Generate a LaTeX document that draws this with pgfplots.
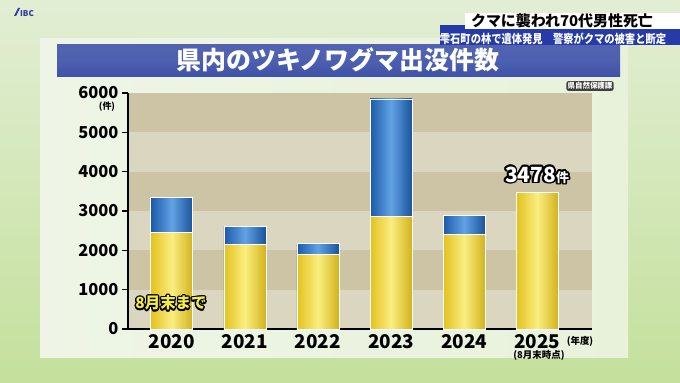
\documentclass[border=0pt]{standalone}
\usepackage{pgfplots}
\pgfplotsset{compat=1.18}
\usepackage{fontspec}
\setmainfont{Noto Sans CJK JP}
\definecolor{bandD}{RGB}{204,196,165}
\definecolor{bandL}{RGB}{219,214,192}
\definecolor{yelD}{RGB}{228,194,30}
\definecolor{yelL}{RGB}{250,238,128}
\definecolor{bluD}{RGB}{28,90,170}
\definecolor{bluL}{RGB}{98,162,228}
\definecolor{titleB}{RGB}{62,82,168}
\definecolor{newsB}{RGB}{38,58,168}
\definecolor{bgA}{RGB}{226,238,212}
\definecolor{bgB}{RGB}{196,224,156}
\definecolor{panel}{RGB}{238,245,230}
\definecolor{capY}{RGB}{246,236,70}
\newcommand\otext[5]{%
  \foreach \a in {0,30,...,330}{\node[text=black,font=#4,inner sep=0,shift={(\a:#3)}] at (#1) {#5};}
  \node[text=#2,font=#4,inner sep=0] at (#1) {#5};
}
\pgfplotsset{
  yel/.style={draw=white, line width=0.8bp, left color=yelD, right color=yelD!92!black, middle color=yelL},
  blu/.style={draw=white, line width=0.8bp, left color=bluD, right color=bluD!92!black, middle color=bluL},
}
\begin{document}
\begin{tikzpicture}[x=1bp,y=1bp]
\useasboundingbox (0,0) rectangle (680,382);
\shade[top color=bgA, bottom color=bgB] (0,0) rectangle (680,382);
\shade[left color=panel, right color=panel!85!bgB] (40,25) rectangle (628,344);
% plot bands
\foreach \k in {0,2,4}{\fill[bandL] (128,53+\k*39.333) rectangle (592,53+\k*39.333+39.333);}
\foreach \k in {1,3,5}{\fill[bandD] (128,53+\k*39.333) rectangle (592,53+\k*39.333+39.333);}
% title bar
\shade[top color=titleB!90!white, bottom color=titleB, middle color=titleB!92!white] (57,306) rectangle (620,338);
\node[text=white,font=\fontsize{25}{28}\selectfont\bfseries] at (338,322) {県内のツキノワグマ出没件数};
% news captions
\fill[newsB] (440,337) rectangle (680,357);
\fill[white] (465,353) rectangle (680,369);
\node[text=black,font=\fontsize{15}{17}\selectfont\bfseries] at (562,361) {クマに襲われ70代男性死亡};
\node[text=white,font=\fontsize{12}{14}\selectfont\bfseries,xscale=0.86] at (553,343) {雫石町の林で遺体発見　警察がクマの被害と断定};
% logo
\node[text=newsB,font=\fontsize{8}{9}\selectfont\bfseries] at (27,368) {IBC};
\fill[newsB] (14,366) -- (18,374) -- (20,374) -- (16,366) -- cycle;
\begin{axis}[
  at={(171.84bp,53bp)}, anchor=origin,
  scale only axis, width=464bp, height=236bp,
  xmin=-0.6, xmax=5.75, ymin=0, ymax=6000,
  ybar, bar width=42bp, bar shift=0pt,
  axis x line*=bottom, axis y line*=left,
  axis line style={line width=1.3bp, black, -},
  xtick={0,...,5}, xticklabels={2020,2021,2022,2023,2024,2025},
  ytick={0,1000,...,6000},
  tick align=outside, major tick length=6bp,
  xtick style={draw=none},
  ytick style={line width=1.3bp, black},
  /pgf/number format/assume math mode=true,
  /pgf/number format/1000 sep={},
  yticklabel style={font=\fontsize{16.5}{18}\selectfont\bfseries},
  xticklabel style={font=\fontsize{19}{20}\selectfont\bfseries, yshift=4bp},
  enlargelimits=false, clip=false,
]
% totals (blue, drawn first)
\addplot[blu] coordinates {(0,3348)};
\addplot[blu] coordinates {(1,2601)};
\addplot[blu] coordinates {(2,2178)};
\addplot[blu] coordinates {(3,5848)};
\addplot[blu] coordinates {(4,2880)};
% through end of August (yellow)
\addplot[yel] coordinates {(0,2458)};
\addplot[yel] coordinates {(1,2161)};
\addplot[yel] coordinates {(2,1899)};
\addplot[yel] coordinates {(3,2855)};
\addplot[yel] coordinates {(4,2408)};
\addplot[yel] coordinates {(5,3478)};
\end{axis}
\node[font=\fontsize{9}{10}\selectfont\bfseries] at (107,275) {(件)};
\node[font=\fontsize{9.5}{10}\selectfont\bfseries] at (580,41) {(年度)};
\node[font=\fontsize{9.5}{10}\selectfont\bfseries] at (539,27) {(8月末時点)};
\otext{171,79}{capY}{1.4bp}{\fontsize{15.5}{17}\selectfont\bfseries}{8月末まで}
\otext{537,207}{white}{1.8bp}{\bfseries}{\fontsize{21}{22}\selectfont 3478\fontsize{13}{14}\selectfont 件}
\node[fill=black!75, rounded corners=2bp, inner sep=1.2bp, text=white, font=\fontsize{7.5}{8}\selectfont\bfseries] at (590,296) {県自然保護課};
\end{tikzpicture}
\end{document}
